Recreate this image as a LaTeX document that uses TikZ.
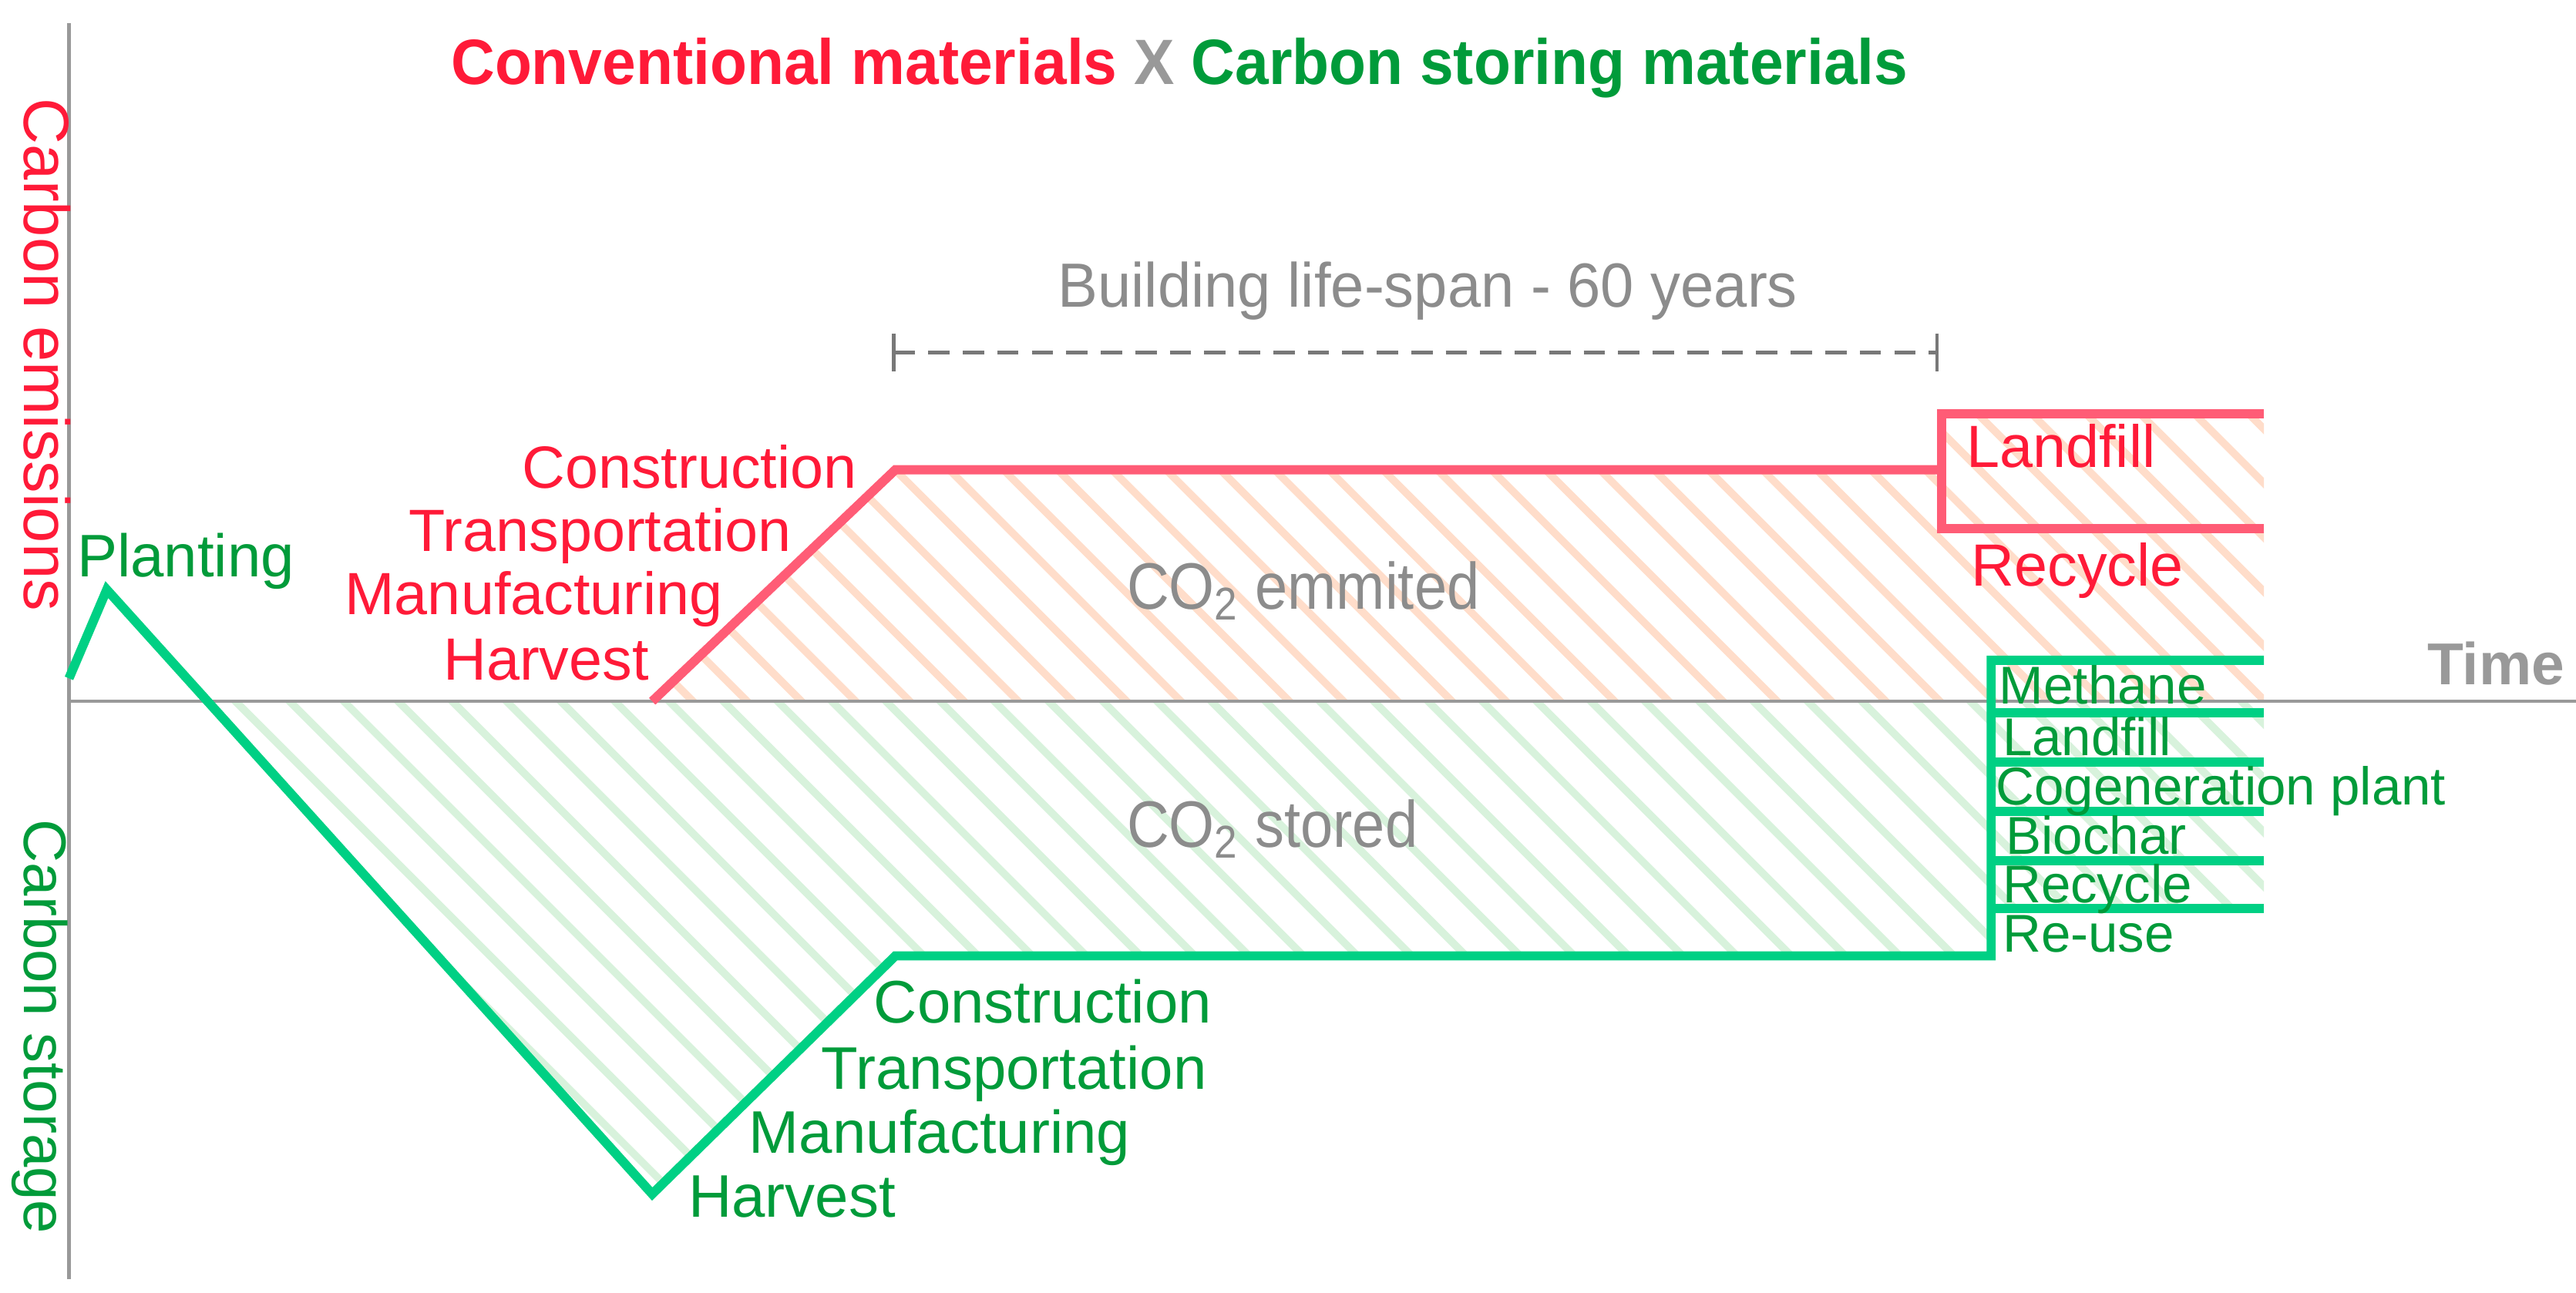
\documentclass[tikz,border=0pt]{standalone}
\usepackage{graphicx}
\usepackage{fontspec}
\setmainfont{Liberation Sans}
\definecolor{redline}{RGB}{255,92,118}
\definecolor{redtext}{RGB}{255,26,56}
\definecolor{greenline}{RGB}{0,208,132}
\definecolor{greentext}{RGB}{0,155,58}
\definecolor{graytext}{RGB}{140,140,140}
\definecolor{axisgray}{RGB}{153,153,153}
\definecolor{dashgray}{RGB}{120,120,120}
\definecolor{orangehatch}{RGB}{255,221,202}
\definecolor{greenhatch}{RGB}{216,242,220}
\newcommand{\fsz}[1]{\fontsize{#1pt}{#1pt}\selectfont}
\begin{document}
\begin{tikzpicture}[x=0.5pt,y=-0.5pt,
  lbl/.style={inner sep=0pt, outer sep=0pt},
  redlbl/.style={lbl, text=redtext, font=\fsz{18.15}},
  greenlbl/.style={lbl, text=greentext, font=\fsz{18.3}},
  smallgreen/.style={lbl, text=greentext, font=\fsz{16.2}},
  graylbl/.style={lbl, text=graytext},
  redpath/.style={draw=redline, line width=2.8pt, line join=miter},
  greenpath/.style={draw=greenline, line width=2.8pt, line join=miter},
  axisline/.style={draw=axisgray, line width=1pt},
  hatchO/.style={draw=orangehatch, line width=2.3pt},
  hatchG/.style={draw=greenhatch, line width=2.3pt},
  spanline/.style={draw=dashgray, line width=1.1pt},
]
\useasboundingbox[fill=white] (0,0) rectangle (1568,787);

% hatched areas
\begin{scope}
  \clip (397,427) -- (545,286) -- (1182,286) -- (1182,252) -- (1378,252) -- (1378,427) -- cycle;
  \foreach \k in {-3,...,36} \draw[hatchO] ({27.8+33*\k+150},150) -- ++(700,700);
\end{scope}
\begin{scope}
  \clip (126,427) -- (397,727) -- (545,582) -- (1212,582) -- (1212,553) -- (1378,553) -- (1378,427) -- cycle;
  \foreach \k in {-20,...,30} \draw[hatchG] ({13.3+33*\k+150},150) -- ++(800,800);
\end{scope}

% axes
\coordinate (ytop) at (42,14);
\coordinate (ybot) at (42,779);
\coordinate (xl) at (42,427);
\coordinate (xr) at (1568,427);
\draw[axisline] (ytop) -- (ybot);
\draw[axisline] (xl) -- (xr);

% life-span marker
\coordinate (ls) at (544,214.5);
\coordinate (le) at (1179,214.5);
\draw[spanline, dash pattern=on 6.5pt off 4pt] (ls) -- (le);
\draw[spanline] (544,203) -- (544,226);
\draw[spanline] (1179,203) -- (1179,226);

% conventional materials (red)
\draw[redpath] (397,427) -- (545,286) -- (1182,286);
\draw[redpath] (1378,252) -- (1182,252) -- (1182,322) -- (1378,322);

% carbon storing materials (green)
\draw[greenpath] (42,413) -- (65,359) -- (397,727) -- (545,582) -- (1212,582) -- (1212,402) -- (1378,402);
\foreach \yy in {434,464,494,524,553} \draw[greenpath] (1212,\yy) -- (1378,\yy);

% title
\node[lbl, anchor=base, font=\fsz{19.5}\bfseries] (title) at (718,51.6)
  {\scalebox{0.945}[1]{\textcolor{redtext}{Conventional materials} \textcolor{axisgray}{X} \textcolor{greentext}{Carbon storing materials}}};

% axis labels
\node[lbl, text=redtext, font=\fsz{19.5}, rotate=-90, anchor=base west] (ce) at (15,60) {Carbon emissions};
\node[lbl, text=greentext, font=\fsz{18.3}, rotate=-90, anchor=base west] (cs) at (15,499) {Carbon storage};
\node[lbl, text=axisgray, font=\fsz{18}\bfseries, anchor=base east] (time) at (1561,417) {Time};

% gray labels
\node[graylbl, font=\fsz{19}, anchor=base west] (span) at (644,187) {\scalebox{0.96}[1]{Building life-span - 60 years}};
\node[graylbl, font=\fsz{20}, anchor=base west] (emit) at (686,371) {\scalebox{0.89}[1]{CO\textsubscript{2} emmited}};
\node[graylbl, font=\fsz{20}, anchor=base west] (stor) at (686,516) {\scalebox{0.89}[1]{CO\textsubscript{2} stored}};

% left labels
\node[greenlbl, anchor=base west] (plant) at (47,351) {Planting};
\node[redlbl, anchor=base east] (rc1) at (521.5,297) {Construction};
\node[redlbl, anchor=base east] (rc2) at (481.5,335.6) {Transportation};
\node[redlbl, anchor=base east] (rc3) at (440,374) {Manufacturing};
\node[redlbl, anchor=base east] (rc4) at (395,414) {Harvest};

\node[greenlbl, anchor=base west] (gc1) at (532,623) {Construction};
\node[greenlbl, anchor=base west] (gc2) at (500,663) {Transportation};
\node[greenlbl, anchor=base west] (gc3) at (456,702) {Manufacturing};
\node[greenlbl, anchor=base west] (gc4) at (419,741) {Harvest};

% end-of-life labels
\node[redlbl, anchor=base west] (rl) at (1197,284.6) {Landfill};
\node[redlbl, anchor=base west] (rr) at (1200,357) {Recycle};

\node[smallgreen, anchor=base west] (g1) at (1217,428.7) {Methane};
\node[smallgreen, anchor=base west] (g2) at (1219,460) {Landfill};
\node[smallgreen, anchor=base west] (g3) at (1215,490) {Cogeneration plant};
\node[smallgreen, anchor=base west] (g4) at (1221,520) {Biochar};
\node[smallgreen, anchor=base west] (g5) at (1219,549.5) {Recycle};
\node[smallgreen, anchor=base west] (g6) at (1219,579.6) {Re-use};
\end{tikzpicture}
\end{document}
